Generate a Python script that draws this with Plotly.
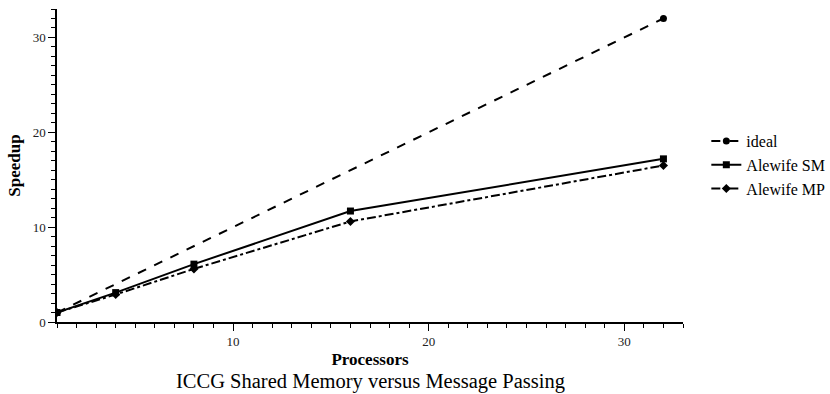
import plotly.graph_objects as go

# Speedup measurements for ICCG on Alewife
ideal_procs = [1, 32]
ideal_speedup = [1, 32]

procs = [1, 4, 8, 16, 32]
sm_speedup = [1.0, 3.1, 6.1, 11.7, 17.2]
mp_speedup = [1.0, 2.9, 5.6, 10.6, 16.5]

x_ticks = [10, 20, 30]
y_ticks = [0, 10, 20, 30]

FONT = "Liberation Serif, Times New Roman, serif"

fig = go.Figure()
fig.add_trace(go.Scatter(
    x=ideal_procs, y=ideal_speedup, name="ideal", mode="lines+markers",
    line=dict(color="black", width=2, dash="dash"),
    marker=dict(symbol="circle", size=7, color="black"),
))
fig.add_trace(go.Scatter(
    x=procs, y=sm_speedup, name="Alewife SM", mode="lines+markers",
    line=dict(color="black", width=2, dash="solid"),
    marker=dict(symbol="square", size=7, color="black"),
))
fig.add_trace(go.Scatter(
    x=procs, y=mp_speedup, name="Alewife MP", mode="lines+markers",
    line=dict(color="black", width=2, dash="dashdot"),
    marker=dict(symbol="diamond", size=7, color="black"),
))

axis_common = dict(
    showgrid=False, zeroline=False, showline=True, linecolor="black",
    linewidth=1.5, ticks="outside", ticklen=7, tickwidth=1.2,
    tickcolor="black", tickfont=dict(family=FONT, size=13, color="#222"),
    minor=dict(ticks="outside", ticklen=4, tickwidth=1, tickcolor="black",
               dtick=1, showgrid=False),
)

fig.update_xaxes(
    range=[1, 33], tickvals=x_ticks, **axis_common,
    title=dict(text="<b>Processors</b>", font=dict(family=FONT, size=17, color="black"),
               standoff=5),
)
fig.update_yaxes(
    range=[0, 33], tickvals=y_ticks, **axis_common,
    title=dict(text="<b>Speedup</b>", font=dict(family=FONT, size=17, color="black"),
               standoff=8),
)

fig.add_annotation(
    text="ICCG Shared Memory versus Message Passing",
    xref="paper", yref="paper", x=0.5, y=-0.19, yanchor="middle", xanchor="center",
    showarrow=False, font=dict(family=FONT, size=20.5, color="black"),
)

fig.update_layout(
    width=830, height=394,
    margin=dict(l=57, r=147, t=9, b=72, autoexpand=False),
    paper_bgcolor="white", plot_bgcolor="white",
    showlegend=True,
    legend=dict(xref="container", x=0.851, y=0.5016, xanchor="left", yanchor="middle",
                font=dict(family=FONT, size=16, color="black"),
                itemwidth=30, tracegroupgap=0, bgcolor="rgba(0,0,0,0)"),
)

fig.write_html("out.html")
